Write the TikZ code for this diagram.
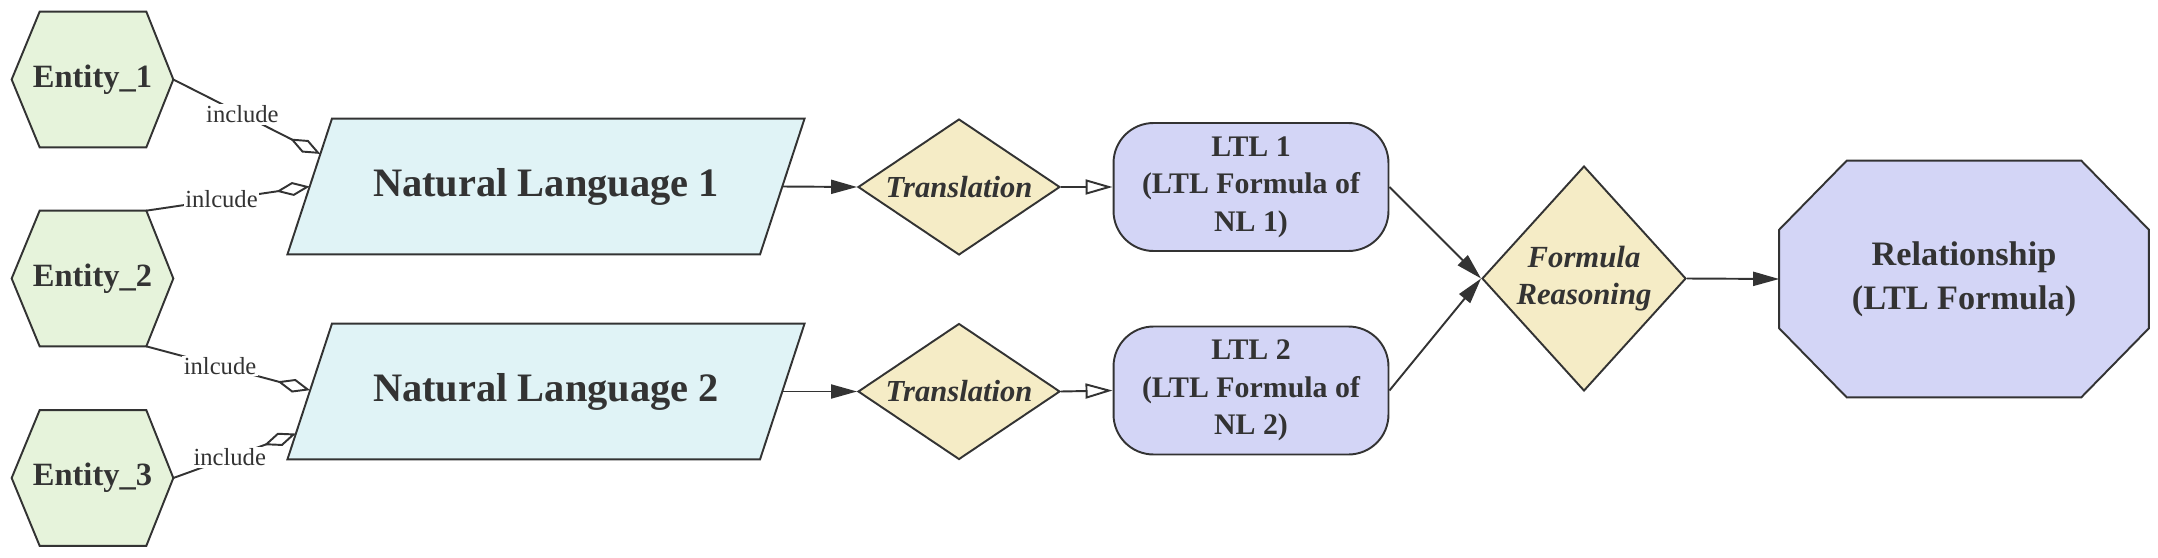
\documentclass[tikz,border=0pt]{standalone}
\usepackage{fontspec}
\setmainfont{Liberation Serif}
\usetikzlibrary{shapes.geometric, arrows.meta, calc, backgrounds}

\definecolor{ink}{RGB}{51,51,51}
\definecolor{entfill}{RGB}{230,243,219}
\definecolor{nlfill}{RGB}{224,243,246}
\definecolor{decfill}{RGB}{245,236,198}
\definecolor{ltlfill}{RGB}{211,213,246}

\tikzset{
  box/.style={inner sep=0pt, text=ink},
  outline/.style={draw=ink, line width=1.1pt},
  entity/.style={box, minimum width=3.22cm, minimum height=2.7cm,
    font=\bfseries\fontsize{18.5}{22}\selectfont},
  nlbox/.style={box, minimum width=10.33cm, minimum height=2.7cm,
    font=\bfseries\fontsize{23}{27}\selectfont},
  trans/.style={box, outline, fill=decfill, diamond, shape aspect=1.485,
    minimum width=4.04cm, minimum height=2.72cm,
    font=\bfseries\itshape\fontsize{17.4}{21}\selectfont},
  ltl/.style={box, outline, fill=ltlfill, rectangle, rounded corners=0.8cm,
    minimum width=5.5cm, minimum height=2.56cm, align=center,
    font=\bfseries\fontsize{17}{21.4}\selectfont},
  reason/.style={box, outline, fill=decfill, diamond, shape aspect=0.907,
    minimum width=4.08cm, minimum height=4.5cm, align=center,
    font=\bfseries\itshape\fontsize{17.5}{21.4}\selectfont},
  result/.style={box, minimum width=7.38cm, minimum height=4.72cm, align=center,
    font=\bfseries\fontsize{19.5}{25}\selectfont},
  lbl/.style={fill=white, text=ink, inner sep=1pt, font=\fontsize{14}{16}\selectfont},
  flow/.style={draw=ink, line width=1.1pt, -{Triangle[length=0.52cm, width=0.28cm]}},
  flowopen/.style={draw=ink, line width=1.1pt, -{Triangle[open, length=0.54cm, width=0.3cm]}},
  aggr/.style={draw=ink, line width=1.1pt, -{Diamond[open, length=0.68cm, width=0.28cm]}}
}

\begin{document}
\begin{tikzpicture}[x=0.02cm, y=-0.02cm]
\useasboundingbox (0,0) rectangle (2158,558);

\node[entity] (e1) at (92.5,79.5) {Entity\_1};
\node[entity] (e2) at (92.5,278.5) {Entity\_2};
\node[entity] (e3) at (92.5,478) {Entity\_3};

\node[nlbox] (nl1) at (546,186.5) {Natural Language 1};
\node[nlbox] (nl2) at (546,391.5) {Natural Language 2};

\node[trans] (tr1) at (959,187) {Translation};
\node[trans] (tr2) at (959,391.5) {Translation};

\node[ltl] (ltl1) at (1251,187) {LTL 1\\(LTL Formula of\\NL 1)};
\node[ltl] (ltl2) at (1251,390.5) {LTL 2\\(LTL Formula of\\NL 2)};

\node[reason] (fr) at (1584,278.5) {Formula\\Reasoning};
\node[result] (rel) at (1964,279) {Relationship\\(LTL Formula)};

\begin{scope}[on background layer]
\foreach \n in {e1,e2,e3}
  \filldraw[outline, fill=entfill] ($(\n.north west)+(28,0)$) -- ($(\n.north east)+(-27,0)$) -- (\n.east)
    -- ($(\n.south east)+(-27,0)$) -- ($(\n.south west)+(28,0)$) -- (\n.west) -- cycle;
\foreach \n in {nl1,nl2}
  \filldraw[outline, fill=nlfill] ($(\n.north west)+(44.5,0)$) -- (\n.north east)
    -- ($(\n.south east)+(-44.5,0)$) -- (\n.south west) -- cycle;
\filldraw[outline, fill=ltlfill] ($(rel.north west)+(67.5,0)$) -- ($(rel.north east)+(-67.5,0)$)
  -- ($(rel.north east)+(0,69)$) -- ($(rel.south east)+(0,-69)$) -- ($(rel.south east)+(-67.5,0)$)
  -- ($(rel.south west)+(67.5,0)$) -- ($(rel.south west)+(0,-69)$) -- ($(rel.north west)+(0,69)$) -- cycle;
\end{scope}

\coordinate (a1) at ($($(nl1.north west)+(44.5,0)$)!0.26!(nl1.south west)$);
\coordinate (a2) at ($($(nl1.north west)+(44.5,0)$)!0.5!(nl1.south west)$);
\coordinate (a3) at ($($(nl2.north west)+(44.5,0)$)!0.49!(nl2.south west)$);
\coordinate (a4) at ($($(nl2.north west)+(44.5,0)$)!0.81!(nl2.south west)$);
\coordinate (n1e) at ($(nl1.east)+(-22.25,0)$);
\coordinate (n2e) at ($(nl2.east)+(-22.25,0)$);

\draw[aggr] (e1.east) -- node[lbl, pos=0.47] {include} (a1);
\draw[aggr] ($(e2.north east)+(-27,0)$) -- node[lbl, pos=0.46] {inlcude} (a2);
\draw[aggr] ($(e2.south east)+(-27,0)$) -- node[lbl, pos=0.45] {inlcude} (a3);
\draw[aggr] (e3.east) -- node[lbl, pos=0.46] {include} (a4);

\draw[flow] (n1e) -- (tr1.west);
\draw[flow] (n2e) -- (tr2.west);
\draw[flowopen] (tr1.east) -- (ltl1.west);
\draw[flowopen] (tr2.east) -- (ltl2.west);
\draw[flow] (ltl1.east) -- (fr.west);
\draw[flow] (ltl2.east) -- (fr.west);
\draw[flow] (fr.east) -- (rel.west);
\end{tikzpicture}
\end{document}
